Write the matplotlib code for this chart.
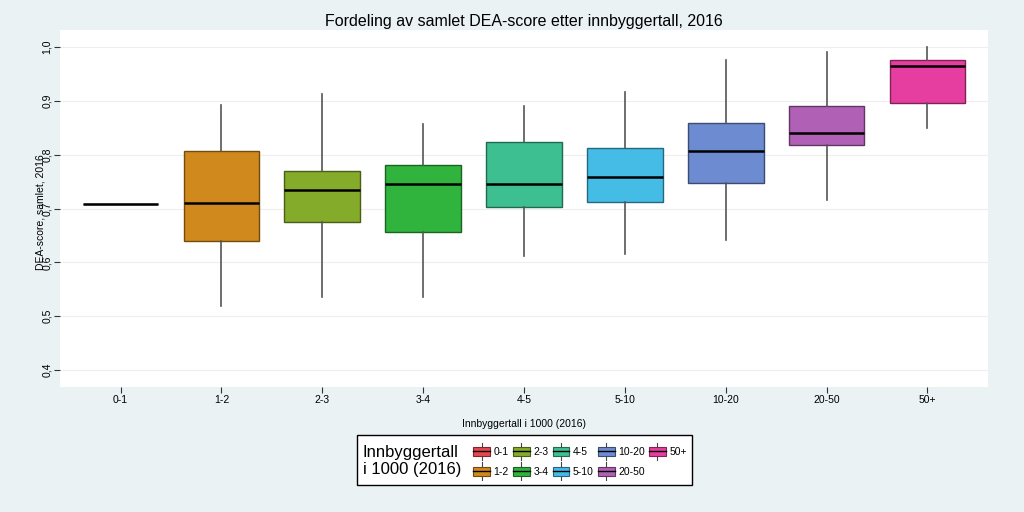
import matplotlib
matplotlib.use("Agg")
import matplotlib.pyplot as plt
from matplotlib.colors import to_rgb
from matplotlib.patches import Rectangle
from matplotlib.lines import Line2D
from matplotlib.legend_handler import HandlerBase

plt.rcParams["font.family"] = ["Liberation Sans", "DejaVu Sans"]

BG = "#eaf2f3"

categories = ["0-1", "1-2", "2-3", "3-4", "4-5", "5-10", "10-20", "20-50", "50+"]
whislo = [0.709, 0.519, 0.535, 0.535, 0.611, 0.616, 0.641, 0.715, 0.849]
q1 = [0.709, 0.639, 0.674, 0.657, 0.702, 0.712, 0.748, 0.818, 0.896]
med = [0.709, 0.710, 0.734, 0.746, 0.746, 0.759, 0.807, 0.841, 0.964]
q3 = [0.709, 0.807, 0.770, 0.780, 0.824, 0.812, 0.859, 0.890, 0.976]
whishi = [0.709, 0.893, 0.913, 0.857, 0.891, 0.917, 0.976, 0.991, 1.000]
colors = ["#e8464e", "#cf891d", "#85ab2a", "#30b43e", "#3dbf91",
          "#45bce6", "#6c8bd0", "#b061b5", "#e63ea0"]
yticks = [0.4, 0.5, 0.6, 0.7, 0.8, 0.9, 1.0]
ytick_labels = ["0,4", "0,5", "0,6", "0,7", "0,8", "0,9", "1,0"]


def darken(c, f=0.55):
    r, g, b = to_rgb(c)
    return (r * f, g * f, b * f)


class BoxHandler(HandlerBase):
    def create_artists(self, legend, orig_handle, xdescent, ydescent,
                       width, height, fontsize, trans):
        fc = orig_handle.get_facecolor()
        bh = height * 1.1
        y0 = -ydescent + (height - bh) / 2
        rect = Rectangle((-xdescent, y0), width, bh, fc=fc, ec=darken(fc), lw=0.8,
                         transform=trans)
        xm = -xdescent + width / 2
        w1 = Line2D([xm, xm], [y0 + bh, y0 + bh + 3], color="#444444", lw=0.8,
                    transform=trans)
        w2 = Line2D([xm, xm], [y0 - 3, y0], color="#444444", lw=0.8, transform=trans)
        m = Line2D([-xdescent, -xdescent + width], [y0 + bh / 2] * 2, color="black",
                   lw=1.0, transform=trans)
        return [w1, w2, rect, m]


fig = plt.figure(figsize=(10.24, 5.12), dpi=100, facecolor=BG)
ax = fig.add_axes([60 / 1024, 1 - 387 / 512, 928 / 1024, 357 / 512])
ax.set_facecolor("white")

stats = []
for i, c in enumerate(categories):
    stats.append(dict(label=c, whislo=whislo[i], q1=q1[i], med=med[i],
                      q3=q3[i], whishi=whishi[i], fliers=[]))

bp = ax.bxp(stats, positions=range(len(categories)), widths=0.75, patch_artist=True,
            showfliers=False, showcaps=False,
            medianprops=dict(color="black", lw=1.8),
            whiskerprops=dict(color="#555555", lw=1.2))
for patch, c in zip(bp["boxes"], colors):
    patch.set_facecolor(c)
    patch.set_edgecolor(darken(c))
    patch.set_linewidth(1.0)

ax.set_xlim(-0.6, 8.6)
ax.set_ylim(0.3685, 1.0315)
ax.set_yticks(yticks)
ax.set_yticklabels(ytick_labels)
ax.yaxis.grid(True, color="#eeeeee", lw=0.8)
ax.set_axisbelow(True)
for s in ax.spines.values():
    s.set_visible(False)
ax.tick_params(axis="y", length=4, width=0.8, labelsize=7.5, pad=2, labelrotation=90,
               color="#333333")
ax.tick_params(axis="x", length=4, width=0.8, labelsize=7.5, pad=2, color="#333333")
for t in ax.get_yticklabels():
    t.set_va("center")

ax.set_ylabel("DEA-score, samlet, 2016", fontsize=7.5)
ax.yaxis.set_label_coords(-0.0155, 0.49)
ax.set_xlabel("Innbyggertall i 1000 (2016)", fontsize=7.5, labelpad=10)
ax.set_title("Fordeling av samlet DEA-score etter innbyggertall, 2016", fontsize=11.5,
             pad=3)

# legend box with the title on the left side
fig.patches.append(Rectangle((357 / 1024, 1 - 485 / 512), 335 / 1024, 50 / 512,
                             transform=fig.transFigure, fc="white", ec="black", lw=1.0))
fig.text(363 / 1024, 1 - 461 / 512, "Innbyggertall\ni 1000 (2016)", fontsize=12,
         ha="left", va="center", linespacing=1.15)

handles = [Rectangle((0, 0), 1, 1, fc=c) for c in colors]
fig.legend(handles, categories, ncol=5, loc="center left",
           bbox_to_anchor=(468 / 1024, 1 - 462 / 512), frameon=False, fontsize=7.5,
           handler_map={Rectangle: BoxHandler()}, handlelength=1.6, handleheight=0.9,
           handletextpad=0.35, columnspacing=0.4, labelspacing=0.95, borderpad=0)

fig.savefig("out.png", dpi=100, facecolor=BG)
